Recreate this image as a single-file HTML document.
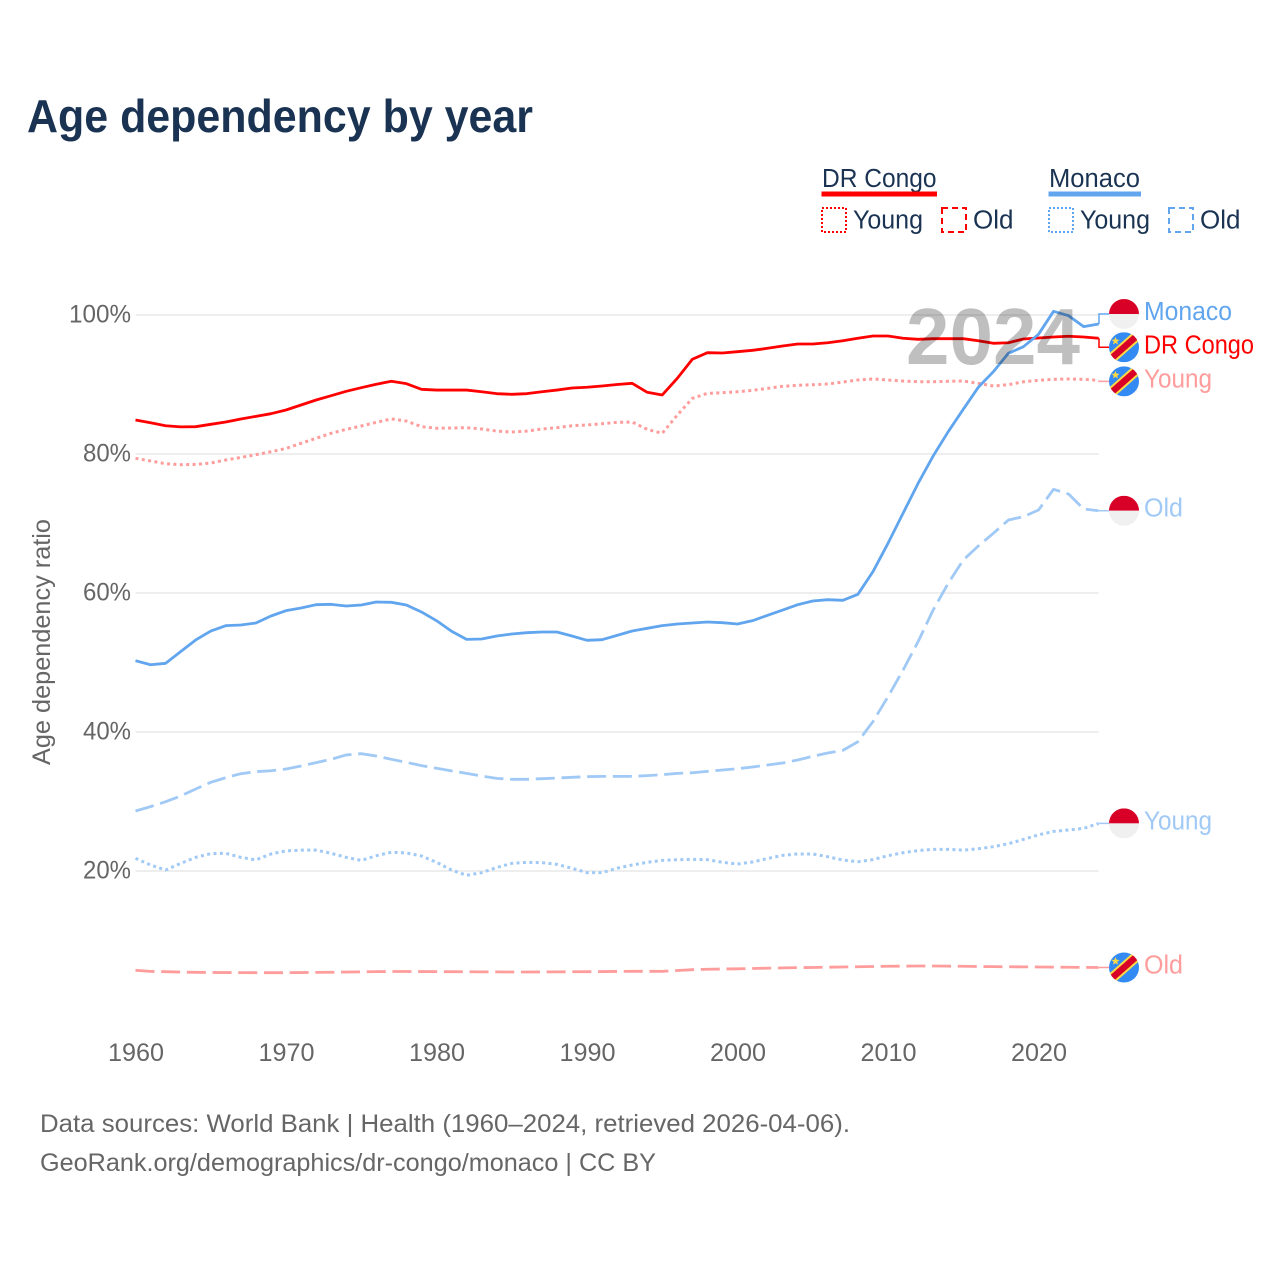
<!DOCTYPE html>
<html lang="en">
<head>
<meta charset="utf-8">
<title>Age dependency by year</title>
<style>
html,body{margin:0;padding:0;background:#fff;width:1280px;height:1280px;overflow:hidden}
svg{display:block}
text{font-family:"Liberation Sans",sans-serif}
</style>
</head>
<body>
<svg id="chart" xmlns="http://www.w3.org/2000/svg" width="1280" height="1280" viewBox="0 0 1280 1280">
  <defs>
    <clipPath id="flag-clip"><circle cx="0" cy="0" r="15"/></clipPath>
    <g id="flag-monaco" clip-path="url(#flag-clip)">
      <rect x="-15" y="-15" width="30" height="15" fill="#d80027"/>
      <rect x="-15" y="0" width="30" height="15" fill="#f0f0f0"/>
    </g>
    <g id="flag-congo" clip-path="url(#flag-clip)">
      <rect x="-15" y="-15" width="30" height="30" fill="#338af3"/>
      <line x1="-17" y1="15" x2="17" y2="-15" stroke="#ffda44" stroke-width="10.5"/>
      <line x1="-17" y1="15" x2="17" y2="-15" stroke="#d80027" stroke-width="6.5"/>
      <polygon points="-8.5,-10.5 -7.4,-7.7 -4.5,-7.5 -6.8,-5.6 -6,-2.8 -8.5,-4.4 -11,-2.8 -10.2,-5.6 -12.5,-7.5 -9.6,-7.7" fill="#ffda44"/>
    </g>
  </defs>

  <text x="27" y="132" font-size="46" font-weight="700" fill="#1a3352" textLength="506" lengthAdjust="spacingAndGlyphs">Age dependency by year</text>

  <g fill="#1a3352" font-size="25.5">
    <g>
      <text x="822" y="187" textLength="114.5" lengthAdjust="spacingAndGlyphs">DR Congo</text>
      <rect x="821.5" y="191.5" width="115.5" height="5" fill="#ff0000"/>
    </g>
    <g>
      <rect x="822" y="208" width="24" height="24" fill="none" stroke="#ff0000" stroke-width="2" stroke-dasharray="2 2"/>
      <text x="853" y="228.5" textLength="70" lengthAdjust="spacingAndGlyphs">Young</text>
    </g>
    <g>
      <rect x="942" y="208" width="24" height="24" fill="none" stroke="#ff0000" stroke-width="2" stroke-dasharray="6 4"/>
      <text x="973" y="228.5" textLength="40.5" lengthAdjust="spacingAndGlyphs">Old</text>
    </g>
    <g>
      <text x="1049" y="187" textLength="91" lengthAdjust="spacingAndGlyphs">Monaco</text>
      <rect x="1048.5" y="191.5" width="92.5" height="5" fill="#60a5ee"/>
    </g>
    <g>
      <rect x="1049" y="208" width="24" height="24" fill="none" stroke="#60a5ee" stroke-width="2" stroke-dasharray="2 2"/>
      <text x="1080" y="228.5" textLength="70" lengthAdjust="spacingAndGlyphs">Young</text>
    </g>
    <g>
      <rect x="1169" y="208" width="24" height="24" fill="none" stroke="#60a5ee" stroke-width="2" stroke-dasharray="6 4"/>
      <text x="1200" y="228.5" textLength="40.5" lengthAdjust="spacingAndGlyphs">Old</text>
    </g>
  </g>

  <g id="grid"></g>
  <g id="y-ticks"></g>
  <g id="x-ticks"></g>
  <text transform="translate(50,642) rotate(-90)" text-anchor="middle" font-size="25" fill="#666" textLength="246" lengthAdjust="spacingAndGlyphs">Age dependency ratio</text>

  <g id="series"></g>

  <text x="906" y="364" font-size="80" font-weight="700" fill="#000" fill-opacity="0.25" textLength="174" lengthAdjust="spacingAndGlyphs">2024</text>

  <g id="end-labels"></g>

  <text x="40" y="1132" font-size="25" fill="#666" textLength="810" lengthAdjust="spacingAndGlyphs">Data sources: World Bank | Health (1960–2024, retrieved 2026-04-06).</text>
  <text x="40" y="1171" font-size="25" fill="#666" textLength="616" lengthAdjust="spacingAndGlyphs">GeoRank.org/demographics/dr-congo/monaco | CC BY</text>
</svg>

<script>
const years = [1960,1961,1962,1963,1964,1965,1966,1967,1968,1969,1970,1971,1972,1973,1974,1975,1976,1977,1978,1979,1980,1981,1982,1983,1984,1985,1986,1987,1988,1989,1990,1991,1992,1993,1994,1995,1996,1997,1998,1999,2000,2001,2002,2003,2004,2005,2006,2007,2008,2009,2010,2011,2012,2013,2014,2015,2016,2017,2018,2019,2020,2021,2022,2023,2024];
const xTickLabels = [1960,1970,1980,1990,2000,2010,2020];
const yTickLabels = [20,40,60,80,100];

const congoTotal = [84.9,84.5,84.07,83.9,83.93,84.27,84.6,85.04,85.42,85.8,86.33,87.05,87.77,88.39,89.02,89.54,90.03,90.46,90.12,89.31,89.2,89.2,89.2,88.96,88.68,88.59,88.68,88.96,89.2,89.5,89.6,89.78,90.0,90.17,88.88,88.49,90.89,93.63,94.58,94.53,94.72,94.92,95.21,95.54,95.83,95.83,96.01,96.3,96.65,96.98,96.98,96.65,96.5,96.59,96.59,96.59,96.3,95.93,96.01,96.55,96.69,96.83,96.94,96.83,96.65];
const congoYoung = [79.38,79.0,78.6,78.46,78.5,78.7,79.14,79.5,79.9,80.33,80.8,81.54,82.26,82.98,83.55,84.03,84.56,85.04,84.75,83.93,83.7,83.74,83.79,83.6,83.3,83.16,83.3,83.6,83.79,84.07,84.17,84.36,84.56,84.6,83.55,82.98,85.6,88.0,88.73,88.82,88.96,89.16,89.45,89.74,89.88,89.97,90.07,90.36,90.65,90.79,90.65,90.5,90.4,90.4,90.46,90.5,90.17,89.78,89.97,90.4,90.6,90.75,90.79,90.75,90.6];
const congoOld = [5.71,5.56,5.51,5.46,5.42,5.40,5.39,5.38,5.37,5.37,5.37,5.39,5.41,5.43,5.46,5.49,5.52,5.54,5.54,5.53,5.52,5.51,5.50,5.49,5.48,5.47,5.47,5.48,5.49,5.50,5.51,5.53,5.55,5.57,5.57,5.56,5.68,5.8,5.86,5.9,5.93,5.97,6.02,6.06,6.1,6.12,6.16,6.19,6.22,6.26,6.29,6.31,6.33,6.33,6.31,6.29,6.26,6.24,6.22,6.21,6.19,6.17,6.15,6.13,6.12];
const monacoTotal = [50.26,49.68,49.88,51.56,53.24,54.53,55.3,55.4,55.68,56.69,57.46,57.84,58.32,58.37,58.13,58.27,58.7,58.66,58.27,57.27,56.02,54.49,53.33,53.38,53.81,54.1,54.29,54.39,54.39,53.81,53.19,53.28,53.9,54.53,54.92,55.3,55.54,55.68,55.83,55.73,55.54,56.02,56.79,57.55,58.32,58.85,59.04,58.95,59.81,63.07,67.15,71.47,75.78,79.71,83.21,86.43,89.6,91.84,94.49,95.44,97.22,100.53,99.9,98.32,98.7];
const monacoYoung = [21.82,20.86,20.14,21.1,21.96,22.5,22.55,21.96,21.6,22.45,22.9,23.0,23.0,22.55,21.96,21.53,22.2,22.7,22.6,22.16,21.25,20.14,19.38,19.76,20.5,21.1,21.25,21.2,20.96,20.4,19.76,19.76,20.4,20.86,21.25,21.53,21.63,21.68,21.63,21.25,21.0,21.3,21.8,22.25,22.45,22.45,22.05,21.58,21.34,21.63,22.2,22.63,22.93,23.12,23.12,23.0,23.2,23.5,23.93,24.55,25.2,25.7,25.9,26.13,26.85];
const monacoOld = [28.63,29.26,29.97,30.79,31.8,32.76,33.43,34.0,34.3,34.43,34.68,35.1,35.6,36.07,36.7,36.88,36.55,36.07,35.64,35.16,34.78,34.4,34.05,33.67,33.33,33.19,33.19,33.28,33.38,33.48,33.57,33.62,33.62,33.62,33.72,33.86,34.05,34.14,34.34,34.53,34.72,34.96,35.25,35.54,35.97,36.5,36.98,37.36,38.6,41.5,45.08,48.9,53.0,57.55,61.4,64.75,66.76,68.59,70.5,70.98,71.94,74.92,74.24,72.09,71.84];

function xScale(year) { return 135.5 + (year - 1960) * 15.05; }
function yScale(pct) { return 315 + (100 - pct) * 6.95; }

const NS = 'http://www.w3.org/2000/svg';
function make(tag, parent, attrs, text) {
  const el = document.createElementNS(NS, tag);
  for (const k in attrs) el.setAttribute(k, attrs[k]);
  if (text !== undefined) el.textContent = text;
  parent.appendChild(el);
  return el;
}

const gridLayer = document.getElementById('grid');
const yTickLayer = document.getElementById('y-ticks');
yTickLabels.forEach(function (v) {
  const line = make('line', gridLayer, {x1: xScale(1960), x2: xScale(2024), y1: yScale(v), y2: yScale(v), stroke: '#eeeeee', 'stroke-width': 2});
  
  
  const label = make('text', yTickLayer, {x: 131, y: yScale(v) + 7.5, 'text-anchor': 'end', 'font-size': 25, fill: '#666', textLength: (v === 100 ? 62 : 48), lengthAdjust: 'spacingAndGlyphs'}, v + '%');
  
  
});

const xTickLayer = document.getElementById('x-ticks');
xTickLabels.forEach(function (yr) {
  const label = make('text', xTickLayer, {x: xScale(yr) + 0.5, y: 1061, 'text-anchor': 'middle', 'font-size': 25, fill: '#666', textLength: 56, lengthAdjust: 'spacingAndGlyphs'}, String(yr));
  
  
});

const seriesLayer = document.getElementById('series');
function drawSeries(name, values, color, dash, width) {
  const pts = years.map(function (yr, i) { return xScale(yr).toFixed(2) + ',' + yScale(values[i]).toFixed(2); }).join(' ');
  const attrs = {points: pts, fill: 'none', stroke: color, 'stroke-width': width, 'stroke-linejoin': 'round'};
  if (dash) attrs['stroke-dasharray'] = dash;
  const line = make('polyline', seriesLayer, attrs);
  
  
}
const DOT = '3 3.4';
const DASH = '19 6.7';
drawSeries('monaco-young', monacoYoung, '#a0c9f5', DOT, 3);
drawSeries('monaco-old', monacoOld, '#a0c9f5', DASH, 2.8);
drawSeries('dr-congo-young', congoYoung, '#ff9c9c', DOT, 3);
drawSeries('dr-congo-old', congoOld, '#ff9c9c', DASH, 2.8);
drawSeries('dr-congo-total', congoTotal, '#ff0000', null, 2.8);
drawSeries('monaco-total', monacoTotal, '#60a5ee', null, 2.8);

const labelLayer = document.getElementById('end-labels');
function drawEnd(name, text, values, color, flag, shift, width) {
  const yEnd = yScale(values[values.length - 1]);
  const yFlag = yEnd + shift;
  const link = make('polyline', labelLayer, {points: '1099,' + yEnd.toFixed(2) + ' 1099,' + yFlag.toFixed(2) + ' 1109,' + yFlag.toFixed(2), fill: 'none', stroke: color, 'stroke-width': 1.5});
  
  
  const badge = make('use', labelLayer, {href: '#' + flag, transform: 'translate(1124,' + yFlag.toFixed(2) + ')'});
  
  
  const label = make('text', labelLayer, {x: 1144, y: (yFlag + 6).toFixed(2), 'font-size': 25.5, fill: color, textLength: width, lengthAdjust: 'spacingAndGlyphs'}, text);
  
  
}
drawEnd('monaco-total', 'Monaco', monacoTotal, '#60a5ee', 'flag-monaco', -10, 88);
drawEnd('dr-congo-total', 'DR Congo', congoTotal, '#ff0000', 'flag-congo', 9, 110);
drawEnd('dr-congo-young', 'Young', congoYoung, '#ff9c9c', 'flag-congo', 1, 68);
drawEnd('monaco-old', 'Old', monacoOld, '#a0c9f5', 'flag-monaco', 0, 39);
drawEnd('monaco-young', 'Young', monacoYoung, '#a0c9f5', 'flag-monaco', 0, 68);
drawEnd('dr-congo-old', 'Old', congoOld, '#ff9c9c', 'flag-congo', 0, 39);
</script>
</body>
</html>
